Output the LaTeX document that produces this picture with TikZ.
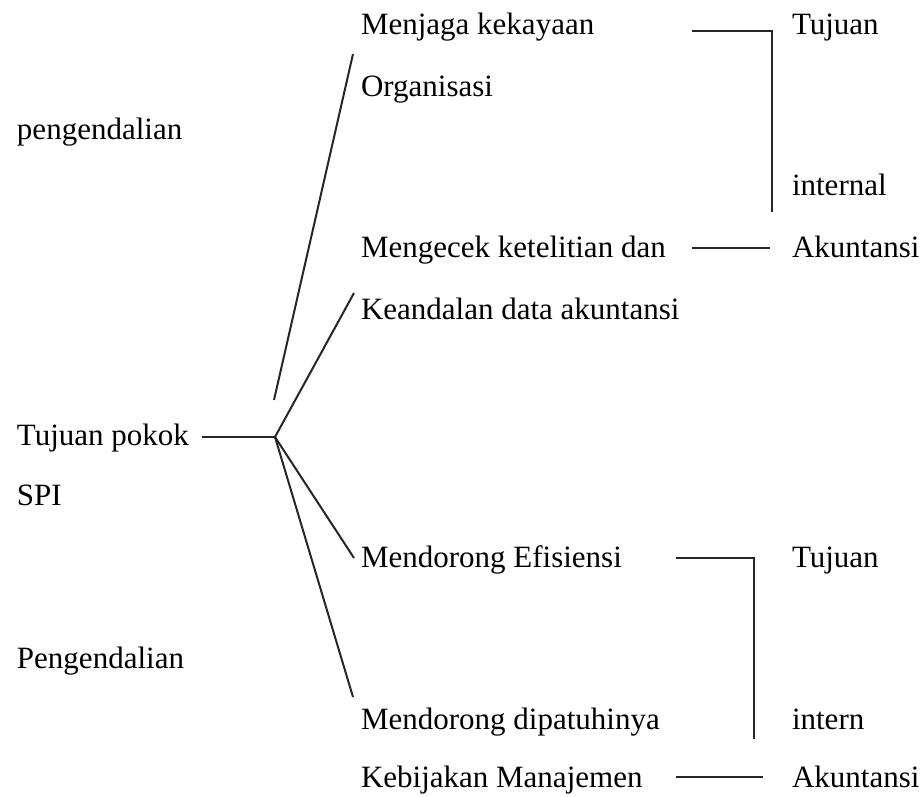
\documentclass[tikz,border=0pt]{standalone}
\usepackage{fontspec}
\setmainfont{Liberation Serif}
\begin{document}
\begin{tikzpicture}[x=0.5pt,y=-0.5pt,line width=1pt,
		every node/.style={outer sep=0pt},
		txt/.style={anchor=base west,inner sep=0pt,font=\fontsize{15.5}{18}\selectfont},
		conn/.style={draw=black!85,line width=1pt},
		]
		\useasboundingbox (0,0) rectangle (921,797);
		% kolom kiri
		\node[txt] (l1) at (17,140) {pengendalian};
		\node[txt] (l2) at (17,445) {Tujuan pokok};
		\node[txt] (l3) at (17,505) {SPI};
		\node[txt] (l4) at (17,668) {Pengendalian};
		% kolom tengah
		\node[txt] (m1) at (361,35) {Menjaga kekayaan};
		\node[txt] (m2) at (361,97) {Organisasi};
		\node[txt] (m3) at (361,257) {Mengecek ketelitian dan};
		\node[txt] (m4) at (361,319) {Keandalan data akuntansi};
		\node[txt] (m5) at (361,567) {Mendorong Efisiensi};
		\node[txt] (m6) at (361,729) {Mendorong dipatuhinya};
		\node[txt] (m7) at (361,787) {Kebijakan Manajemen};
		% kolom kanan
		\node[txt] (r1) at (792,35) {Tujuan};
		\node[txt] (r2) at (792,195) {internal};
		\node[txt] (r3) at (792,257) {Akuntansi};
		\node[txt] (r4) at (792,567) {Tujuan};
		\node[txt] (r5) at (792,729) {intern};
		\node[txt] (r6) at (792,787) {Akuntansi};

		% titik bantu
		\coordinate (j) at (275,437);
		\coordinate (a0) at (202,437);
		\coordinate (a1) at (353,54);
		\coordinate (a2) at (274,400);
		\coordinate (a3) at (354,293);
		\coordinate (a4) at (354,558);
		\coordinate (a5) at (353,697);

		\draw[conn] (a0) -- (j);
		\draw[conn] (a1) -- (a2);
		\draw[conn] (j) -- (a3);
		\draw[conn] (j) -- (a4);
		\draw[conn] (j) -- (a5);

		% kurung atas
		\coordinate (b1) at (692,31);
		\coordinate (b2) at (772,212);
		\draw[conn] (b1) -| (b2);
		\coordinate (b3) at (692,248);
		\coordinate (b4) at (770,248);
		\draw[conn] (b3) -- (b4);

		% kurung bawah
		\coordinate (c1) at (676,558);
		\coordinate (c2) at (754,739);
		\draw[conn] (c1) -| (c2);
		\coordinate (c3) at (676,777);
		\coordinate (c4) at (763,777);
		\draw[conn] (c3) -- (c4);
\end{tikzpicture}
\end{document}
